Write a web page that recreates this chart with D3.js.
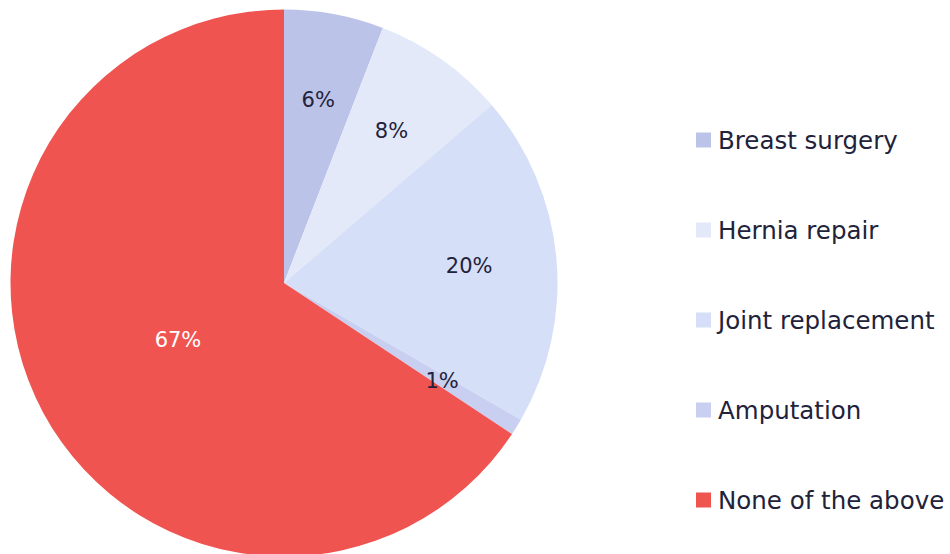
<!DOCTYPE html>
<html><head><meta charset="utf-8">
<script src="https://cdn.jsdelivr.net/npm/d3@7"></script>
<style>
html,body{margin:0;padding:0;background:#fff;}
svg{display:block;font-family:"DejaVu Sans",sans-serif;}
</style></head>
<body>
<svg id="chart" width="950" height="554"></svg>
<script>
const categories = ["Breast surgery","Hernia repair","Joint replacement","Amputation","None of the above"];
const values = [6, 8, 20, 1, 67];
const labels = ["6%","8%","20%","1%","67%"];
const colors = ["#bcc3e8","#e4e9fa","#d6dff8","#c8cff0","#f05451"];
const labelColors = ["#22223a","#22223a","#22223a","#22223a","#ffffff"];

const svg = d3.select("#chart");
const cx = 284, cy = 283, r = 273.5;
const data = categories.map((c,i)=>({cat:c, value:values[i], label:labels[i], color:colors[i], lc:labelColors[i]}));
const total = d3.sum(values);
const pie = d3.pie().sort(null).value(d=>d.value);
const arc = d3.arc().innerRadius(0).outerRadius(r);
const g = svg.append("g").attr("transform",`translate(${cx},${cy})`);
const arcs = pie(data);
g.selectAll("path").data(arcs).join("path").attr("d",arc).attr("fill",d=>d.data.color);

g.selectAll("text").data(arcs).join("text")
  .attr("transform",d=>{
    const lr = d.data.value/total > 0.5 ? r*0.44 : r*0.68;
    const la = d3.arc().innerRadius(lr).outerRadius(lr);
    const [x,y] = la.centroid(d);
    return `translate(${x},${y})`;
  })
  .attr("text-anchor","middle").attr("dominant-baseline","central")
  .attr("font-size",21).attr("fill",d=>d.data.lc)
  .text(d=>d.data.label);

const y = d3.scalePoint().domain(categories).range([140,500]);
const leg = svg.append("g");
const items = leg.selectAll("g").data(data).join("g").attr("transform",d=>`translate(696,${y(d.cat)})`);
items.append("rect").attr("x",0).attr("y",-7.5).attr("width",15).attr("height",15).attr("fill",d=>d.color);
items.append("text").attr("x",22).attr("y",0).attr("dominant-baseline","central")
  .attr("font-size",24.5).attr("fill","#22223a").text(d=>d.cat);
</script>
</body></html>
